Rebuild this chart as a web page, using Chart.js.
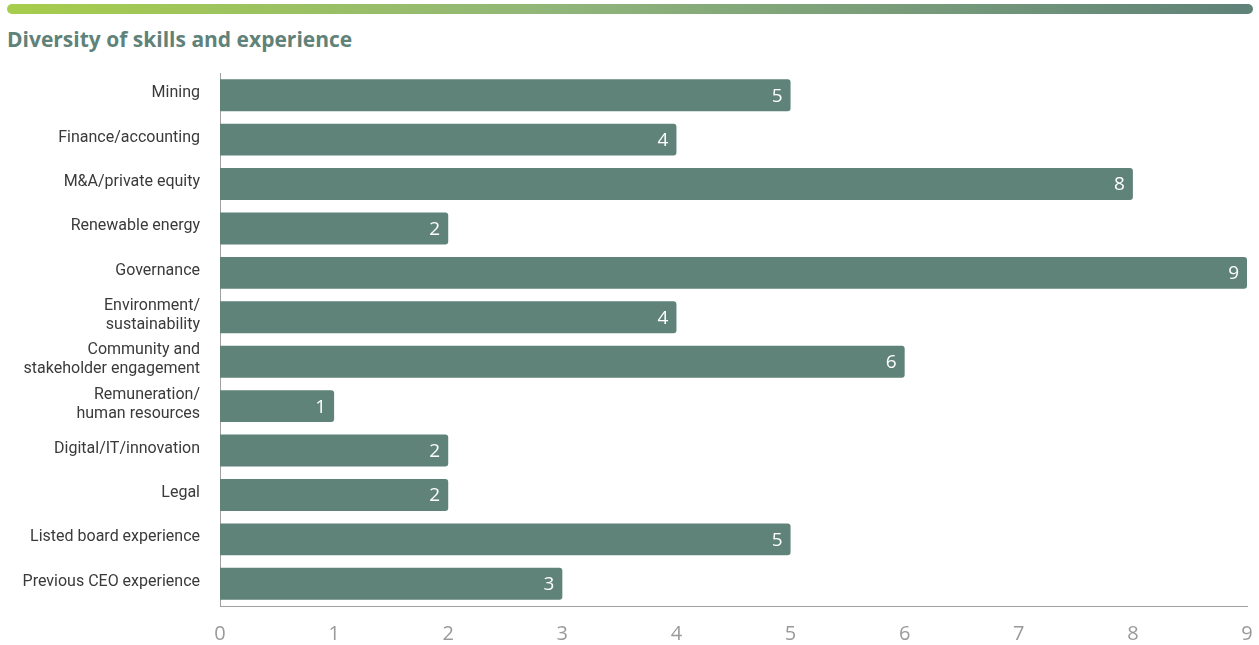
<!DOCTYPE html>
<html>
<head>
<meta charset="utf-8">
<script src="https://cdn.jsdelivr.net/npm/chart.js@4"></script>
<style>
  body { margin: 0; background: #fff; }
  #wrap { position: relative; width: 1259px; height: 645px; }
  #topbar { position: absolute; left: 7px; top: 4px; width: 1246px; height: 10px; border-radius: 5px;
    background: linear-gradient(to right, #a6cd4b, #90b57a 45%, #5f8279); }
  #title { position: absolute; left: 7px; top: 25px; margin: 0; font: bold 21px "Open Sans", sans-serif; color: #5f8279; }
  #box { position: absolute; left: 0; top: 0; width: 1259px; height: 645px; }
</style>
</head>
<body>
<div id="wrap">
  <div id="topbar"></div>
  <h2 id="title">Diversity of skills and experience</h2>
  <div id="box"><canvas id="chart"></canvas></div>
</div>
<script>
const skills = [
  "Mining",
  "Finance/accounting",
  "M&A/private equity",
  "Renewable energy",
  "Governance",
  ["Environment/", "sustainability"],
  ["Community and", "stakeholder engagement"],
  ["Remuneration/", "human resources"],
  "Digital/IT/innovation",
  "Legal",
  "Listed board experience",
  "Previous CEO experience"
];
const directors = [5, 4, 8, 2, 9, 4, 6, 1, 2, 2, 5, 3];
const xTicks = [0, 1, 2, 3, 4, 5, 6, 7, 8, 9];

const barColor = "#5f8279";

const valueLabels = {
  id: "valueLabels",
  afterDatasetsDraw(chart) {
    const ctx = chart.ctx;
    const meta = chart.getDatasetMeta(0);
    ctx.save();
    ctx.fillStyle = "#fff";
    ctx.font = "19px 'Open Sans', sans-serif";
    ctx.textAlign = "right";
    ctx.textBaseline = "middle";
    meta.data.forEach((bar, i) => {
      ctx.fillText(String(directors[i]), bar.x - 8, bar.y + 1);
    });
    ctx.restore();
  }
};

window.onload = () => {
  const ctx = document.getElementById("chart").getContext("2d");
  new Chart(ctx, {
    type: "bar",
    data: {
      labels: skills,
      datasets: [{
        data: directors,
        backgroundColor: barColor,
        borderRadius: 3,
        borderSkipped: "start",
        barPercentage: 0.72,
        categoryPercentage: 1
      }]
    },
    options: {
      indexAxis: "y",
      responsive: true,
      maintainAspectRatio: false,
      animation: false,
      layout: { padding: { top: 73, right: 12, left: 0, bottom: 0 } },
      plugins: {
        legend: { display: false },
        tooltip: { enabled: false }
      },
      scales: {
        x: {
          min: 0,
          max: 9,
          afterBuildTicks: (scale) => { scale.ticks = xTicks.map(v => ({ value: v })); },
          afterFit: (scale) => { scale.height = 39; scale.paddingLeft = 0; scale.paddingRight = 0; },
          grid: { display: false, drawTicks: false },
          border: { display: true, color: "#a0a0a0", width: 1 },
          ticks: { color: "#9a9a9a", padding: 16, font: { family: "Open Sans", size: 20 } }
        },
        y: {
          afterFit: (scale) => { scale.width = 220; },
          grid: { display: false, drawTicks: false },
          border: { display: true, color: "#a0a0a0", width: 1 },
          ticks: { color: "#3a3a3a", padding: 20, labelOffset: -2, font: { family: "Roboto", size: 16 }, autoSkip: false }
        }
      }
    },
    plugins: [valueLabels]
  });
};
</script>
</body>
</html>
